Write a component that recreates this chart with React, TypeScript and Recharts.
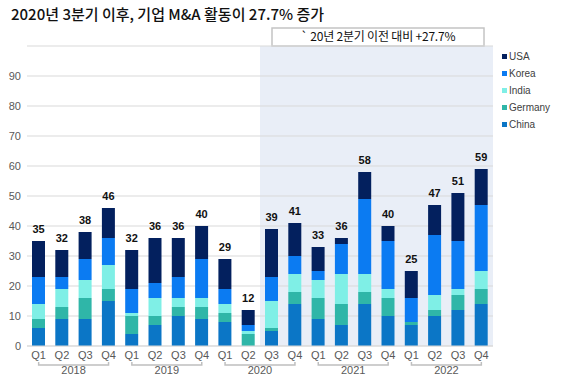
import React from 'react';
import { BarChart, Bar, XAxis, YAxis, CartesianGrid, ReferenceArea, LabelList } from 'recharts';

const quarters = ['Q1', 'Q2', 'Q3', 'Q4', 'Q1', 'Q2', 'Q3', 'Q4', 'Q1', 'Q2', 'Q3', 'Q4', 'Q1', 'Q2', 'Q3', 'Q4', 'Q1', 'Q2', 'Q3', 'Q4'];
const years = ['2018', '2018', '2018', '2018', '2019', '2019', '2019', '2019', '2020', '2020', '2020', '2020', '2021', '2021', '2021', '2021', '2022', '2022', '2022', '2022'];
const china = [6, 9, 9, 15, 4, 7, 10, 9, 8, 0, 5, 14, 9, 7, 14, 10, 7, 10, 12, 14];
const germany = [3, 4, 7, 4, 6, 3, 3, 4, 3, 4, 1, 4, 7, 7, 4, 6, 1, 2, 5, 5];
const india = [5, 6, 6, 8, 1, 6, 3, 3, 3, 1, 9, 6, 6, 10, 6, 3, 0, 5, 2, 6];
const korea = [9, 4, 7, 9, 8, 5, 7, 13, 5, 2, 8, 6, 3, 10, 25, 16, 8, 20, 16, 22];
const usa = [12, 9, 9, 10, 13, 15, 13, 11, 10, 5, 16, 11, 8, 2, 9, 5, 9, 10, 16, 12];
const totals = [35, 32, 38, 46, 32, 36, 36, 40, 29, 12, 39, 41, 33, 36, 58, 40, 25, 47, 51, 59];
const yTicks = [0, 10, 20, 30, 40, 50, 60, 70, 80, 90];

const title = '2020년 3분기 이후, 기업 M&A 활동이 27.7% 증가';
const annotation = '` 20년 2분기 이전 대비 +27.7%';
const highlightStart = '2020 Q3';
const highlightEnd = '2022 Q4';

const series = [
  { key: 'china', name: 'China', color: '#0b76c6' },
  { key: 'germany', name: 'Germany', color: '#2fb6a8' },
  { key: 'india', name: 'India', color: '#7fefe6' },
  { key: 'korea', name: 'Korea', color: '#0b7bf2' },
  { key: 'usa', name: 'USA', color: '#03205e' },
];

const data = quarters.map((q, i) => ({
  key: `${years[i]} ${q}`,
  quarter: q,
  year: years[i],
  china: china[i],
  germany: germany[i],
  india: india[i],
  korea: korea[i],
  usa: usa[i],
  total: totals[i],
}));

const W = 569;
const H = 382;
const MARGIN = { top: 46, right: 76, bottom: 0, left: 0 };
const Y_W = 27;
const X_H = 36;
const PLOT_W = W - MARGIN.left - MARGIN.right - Y_W;

const XTick = (props: any) => {
  const { x, y, index } = props;
  const axisW = typeof props.width === 'number' && props.width > 0 ? props.width : PLOT_W;
  const band = axisW / data.length;
  const isFirst = quarters[index] === 'Q1';
  return (
    <g>
      <text x={x} y={y + 13} textAnchor="middle" fontSize={11} fill="#595959" fontFamily="Liberation Sans, Arial, sans-serif">
        {quarters[index]}
      </text>
      {isFirst && (
        <path
          d={`M${x},${y + 16}V${y + 19}H${x + 3 * band}V${y + 16}`}
          stroke="#bfbfbf"
          strokeWidth={1.5}
          fill="none"
        />
      )}
      {isFirst && (
        <text x={x + 1.5 * band} y={y + 28} textAnchor="middle" fontSize={11} fill="#595959" fontFamily="Liberation Sans, Arial, sans-serif">
          {years[index]}
        </text>
      )}
    </g>
  );
};

const AnnoBox = (props: any) => {
  const vb = props.viewBox || {};
  const { x = 0, y = 0, width = 0 } = vb;
  const bx = x + 12;
  const bw = width - 21;
  return (
    <g>
      <rect x={bx} y={y - 18} width={bw} height={18} fill="#ffffff" stroke="#c4c4c4" strokeWidth={1.5} />
      <text x={bx + bw / 2} y={y - 5} textAnchor="middle" fontSize={12} fill="#111" fontFamily="Noto Sans CJK KR, sans-serif" letterSpacing={-0.2}>
        {annotation}
      </text>
    </g>
  );
};

const LegendBlock = () => (
  <div
    style={{
      position: 'absolute',
      left: 502,
      top: 48,
      fontFamily: 'Liberation Sans, Arial, sans-serif',
      fontSize: 10,
      color: '#404040',
    }}
  >
    {[...series].reverse().map((s) => (
      <div key={s.key} style={{ display: 'flex', alignItems: 'center', height: 17 }}>
        <span style={{ width: 5, height: 5, background: s.color, display: 'inline-block', marginRight: 2 }} />
        <span>{s.name}</span>
      </div>
    ))}
  </div>
);

export default function App() {
  return (
    <div style={{ position: 'absolute', left: 0, top: 0, width: W, height: H, background: '#fff' }}>
      <div
        style={{
          position: 'absolute',
          left: 11,
          top: 4,
          fontFamily: 'Noto Sans CJK KR, sans-serif',
          fontSize: 15,
          fontWeight: 500,
          color: '#111',
          whiteSpace: 'nowrap',
          lineHeight: '20px',
        }}
      >
        {title}
      </div>
      <BarChart width={W} height={H} data={data} margin={MARGIN} barSize={13}>
        <ReferenceArea
          x1={highlightStart}
          x2={highlightEnd}
          y1={0}
          y2={100}
          fill="#e9eef7"
          fillOpacity={1}
          stroke="none"
          ifOverflow="visible"
          zIndex={-200}
          label={<AnnoBox />}
        />
        <CartesianGrid vertical={false} stroke="#d9d9d9" strokeWidth={1} />
        <XAxis
          dataKey="key"
          height={X_H}
          interval={0}
          tickLine={false}
          tickSize={0}
          tickMargin={0}
          axisLine={{ stroke: '#d9d9d9' }}
          tick={<XTick />}
        />
        <YAxis
          width={Y_W}
          domain={[0, 100]}
          ticks={yTicks}
          axisLine={false}
          tickLine={false}
          tickSize={0}
          tickMargin={6}
          tick={{ fontSize: 11, fill: '#595959', fontFamily: 'Liberation Sans, Arial, sans-serif' }}
        />
        {series.map((s, i) => (
          <Bar key={s.key} dataKey={s.key} name={s.name} stackId="a" fill={s.color} isAnimationActive={false}>
            {i === series.length - 1 && (
              <LabelList
                dataKey="total"
                position="top"
                offset={8}
                fontSize={11}
                fontWeight={700}
                fill="#111"
                fontFamily="Liberation Sans, Arial, sans-serif"
              />
            )}
          </Bar>
        ))}
      </BarChart>
      <LegendBlock />
    </div>
  );
}
